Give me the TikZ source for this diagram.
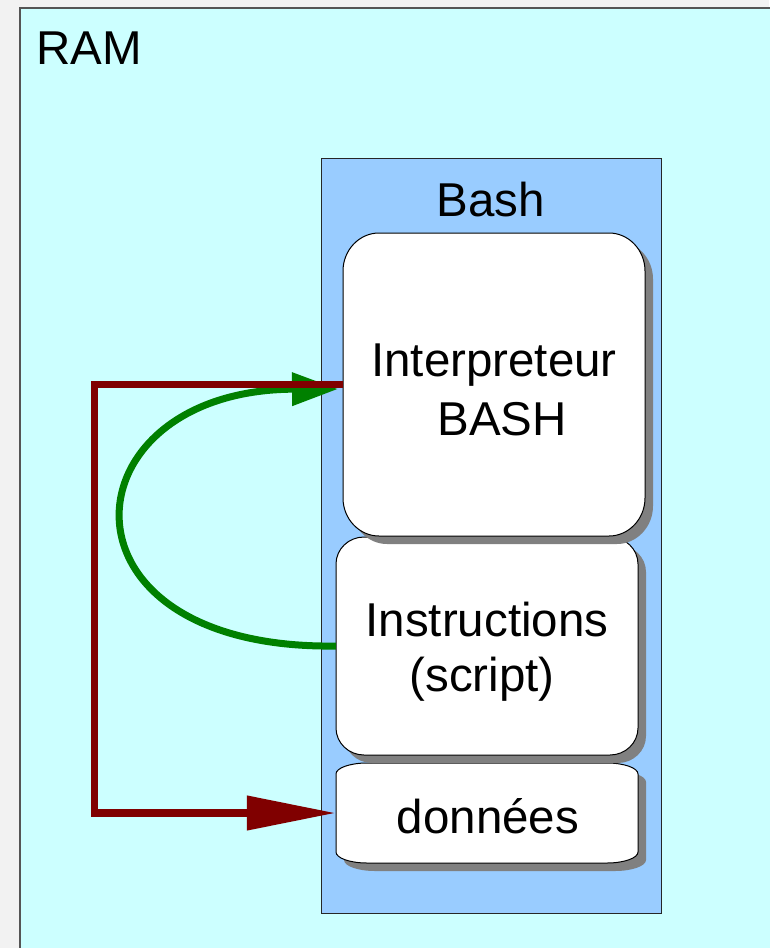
\documentclass[tikz,border=0pt]{standalone}
\usepackage{fontspec}
\setmainfont{Liberation Sans}
\usetikzlibrary{arrows.meta}
\definecolor{outerbg}{HTML}{F2F2F2}
\definecolor{ramcyan}{HTML}{CCFFFF}
\definecolor{bashblue}{HTML}{99CCFF}
\definecolor{shadowgray}{HTML}{808080}
\definecolor{darkred}{HTML}{800000}
\definecolor{darkgreen}{HTML}{008000}
\definecolor{ramborder}{HTML}{555555}
% style, x1, y1, x2, y2, rx, ry  (pixel coordinates, y downwards)
\newcommand\ovbox[7]{%
\path[#1] (#2,#3+#7) .. controls (#2,#3+0.45*#7) and (#2+0.45*#6,#3) .. (#2+#6,#3)
 -- (#4-#6,#3) .. controls (#4-0.45*#6,#3) and (#4,#3+0.45*#7) .. (#4,#3+#7)
 -- (#4,#5-#7) .. controls (#4,#5-0.45*#7) and (#4-0.45*#6,#5) .. (#4-#6,#5)
 -- (#2+#6,#5) .. controls (#2+0.45*#6,#5) and (#2,#5-0.45*#7) .. (#2,#5-#7) -- cycle;}
\begin{document}
\begin{tikzpicture}[x=1pt,y=-1pt,
  txt/.style={inner sep=0pt,font=\fontsize{47.5}{56}\selectfont,anchor=base},
  holder/.style={inner sep=0pt,draw=none},
  shadowfill/.style={fill=shadowgray},
  whitebox/.style={fill=white,draw=black,line width=1pt},
  redarrow/.style={draw=darkred,line width=7.5pt,-{Triangle[length=89pt,width=33pt]}},
  greenarrow/.style={draw=darkgreen,line width=7pt,-{Triangle[length=46pt,width=32pt]}}]
\useasboundingbox (0,0) rectangle (769,948);
\fill[outerbg] (0,0) rectangle (769,948);
% RAM region
\node[holder,fill=ramcyan,draw=ramborder,line width=1.5pt,anchor=north west,
      minimum width=800pt,minimum height=1000pt] (ram) at (19,7) {};
\node[txt,anchor=base west] (ramlabel) at (36.5,64.3) {RAM};
% Bash region
\node[holder,fill=bashblue,draw=black!85,line width=1pt,
      minimum width=340pt,minimum height=755pt] (bash) at (491,535.5) {};
\node[txt] (bashlabel) at (491,216) {Bash};
% données
\ovbox{shadowfill}{344}{771}{646}{871}{31}{11}
\ovbox{whitebox}{336}{763}{638}{863}{31}{11}
\node[holder,minimum width=302pt,minimum height=100pt] (donnees) at (487,813) {};
\node[txt] (donneestxt) at (488,833) {données};
% Instructions
\ovbox{shadowfill}{344}{545}{646}{763}{28}{27}
\ovbox{whitebox}{336}{537}{638}{755}{28}{27}
\node[holder,minimum width=302pt,minimum height=218pt] (instr) at (487,646) {};
\node[txt] (instrtxt1) at (487,636) {Instructions};
\node[txt] (instrtxt2) at (482,691) {(script)};
% Interpreteur
\ovbox{shadowfill}{351}{241}{653}{544}{36}{38}
\ovbox{whitebox}{343}{233}{645}{536}{36}{38}
\node[holder,minimum width=302pt,minimum height=303pt] (interp) at (494,384.5) {};
\node[txt] (interptxt1) at (494,376.7) {Interpreteur};
\node[txt] (interptxt2) at (502,435) {BASH};
% connectors
\coordinate (gtip) at (338,389);
\coordinate (rc) at (94.5,384.5);
\draw[greenarrow] (instr.west) .. controls (44,650) and (64,390) .. (gtip);
\draw[redarrow] (interp.west) -- (rc) |- (donnees.west);
\end{tikzpicture}
\end{document}
